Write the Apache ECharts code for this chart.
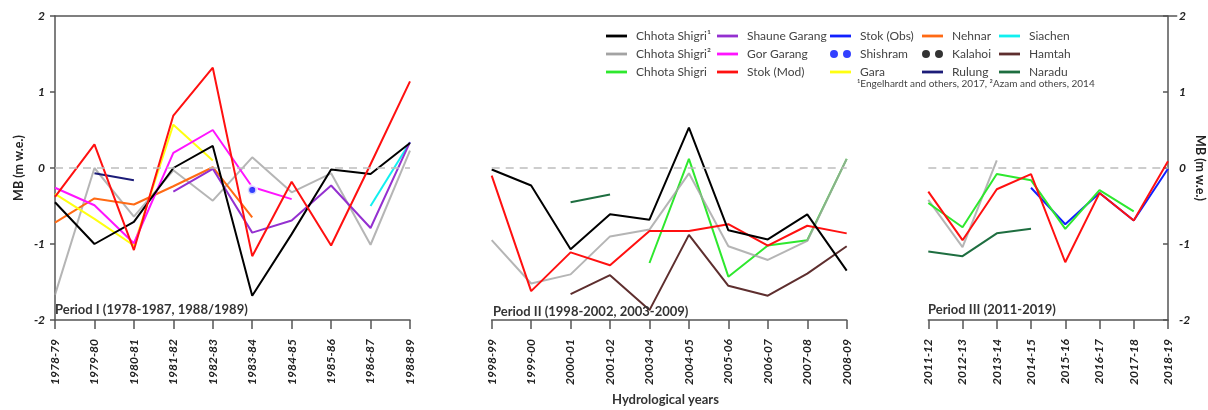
<!DOCTYPE html>
<html>
<head>
<meta charset="utf-8">
<script src="https://cdn.jsdelivr.net/npm/echarts@6/dist/echarts.min.js"></script>
<style>
  html, body { margin: 0; padding: 0; background: #fff; }
  #chart { width: 1208px; height: 410px; }
</style>
</head>
<body>
<div id="chart"></div>
<script>
// Hydrological years for the three observation periods
const yearsI   = ['1978-79','1979-80','1980-81','1981-82','1982-83','1983-84','1984-85','1985-86','1986-87','1988-89'];
const yearsII  = ['1998-99','1999-00','2000-01','2001-02','2003-04','2004-05','2005-06','2006-07','2007-08','2008-09'];
const yearsIII = ['2011-12','2012-13','2013-14','2014-15','2015-16','2016-17','2017-18','2018-19'];

const yTicks = [-2, -1, 0, 1, 2];

// Annual mass balance (m w.e.), Period I
const chhotaShigri1_I = [-0.45, -1.00, -0.71, 0.00, 0.29, -1.68, -0.87, -0.02, -0.08, 0.33];
const chhotaShigri2_I = [-1.67, 0.00, -0.64, -0.03, -0.43, 0.14, -0.32, -0.07, -1.01, 0.23];
const stokMod_I       = [-0.38, 0.31, -1.08, 0.69, 1.32, -1.16, -0.18, -1.02, 0.05, 1.14];
const gorGarang_I     = [-0.26, -0.49, -0.99, 0.20, 0.50, -0.25, -0.41, null, null, null];
const shauneGarang_I  = [null, null, null, -0.31, -0.01, -0.85, -0.69, -0.23, -0.79, 0.34];
const gara_I          = [-0.34, -0.67, -1.02, 0.57, 0.10, null, null, null, null, null];
const nehnar_I        = [-0.72, -0.40, -0.48, -0.24, 0.01, -0.65, null, null, null, null];
const rulung_I        = [null, -0.07, -0.16, null, null, null, null, null, null, null];
const siachen_I       = [null, null, null, null, null, null, null, null, -0.50, 0.34];
const shishram_I      = [null, null, null, null, null, -0.29, null, null, null, null];
const kalahoi_I       = [null, null, null, null, null, null, null, null, null, null];

// Period II
const chhotaShigri1_II = [-0.02, -0.23, -1.07, -0.61, -0.68, 0.53, -0.82, -0.94, -0.61, -1.35];
const chhotaShigri2_II = [-0.95, -1.52, -1.40, -0.90, -0.81, -0.07, -1.03, -1.21, -0.96, 0.12];
const chhotaShigri_II  = [null, null, null, null, -1.25, 0.12, -1.43, -1.02, -0.95, 0.12];
const stokMod_II       = [-0.10, -1.62, -1.11, -1.28, -0.83, -0.83, -0.74, -1.02, -0.76, -0.86];
const hamtah_II        = [null, null, -1.66, -1.41, -1.87, -0.88, -1.55, -1.68, -1.39, -1.03];
const naradu_II        = [null, null, -0.45, -0.35, null, null, null, null, null, null];

// Period III
const chhotaShigri2_III = [-0.42, -1.04, 0.10, null, null, null, null, null];
const chhotaShigri_III  = [-0.46, -0.78, -0.08, -0.16, -0.80, -0.29, -0.57, null];
const stokMod_III       = [-0.31, -0.95, -0.28, -0.08, -1.24, -0.33, -0.69, 0.09];
const stokObs_III       = [null, null, null, -0.26, -0.74, -0.33, -0.69, -0.01];
const naradu_III        = [-1.10, -1.16, -0.86, -0.80, null, null, null, null];

const COL = {
  'Chhota Shigri¹': '#000000',
  'Chhota Shigri²': '#a3a3a3',
  'Chhota Shigri': '#2ee82e',
  'Shaune Garang': '#9430d0',
  'Gor Garang': '#ff14ff',
  'Stok (Mod)': '#ff1010',
  'Stok (Obs)': '#1020ff',
  'Shishram': '#0010ff',
  'Gara': '#ffff10',
  'Nehnar': '#ff6a14',
  'Kalahoi': '#000000',
  'Rulung': '#1c1c78',
  'Siachen': '#10f0f0',
  'Hamtah': '#5e2e2e',
  'Naradu': '#1e6e40'
};

const FONT = 'Lato, "Open Sans", sans-serif';
const GRID_TOP = 16, GRID_H = 304;

function line(name, grid, data, extra) {
  return Object.assign({
    type: 'line', name, xAxisIndex: grid, yAxisIndex: grid, data,
    symbol: 'none', connectNulls: false, animation: false,
    lineStyle: { color: COL[name], width: 2 },
    itemStyle: { color: COL[name] }
  }, extra || {});
}
function dots(name, grid, data) {
  return {
    type: 'scatter', name, xAxisIndex: grid, yAxisIndex: grid, data,
    symbol: 'circle', symbolSize: 9, z: 5, animation: false,
    itemStyle: { color: COL[name], borderColor: '#fff', borderWidth: 3 }
  };
}
function zeroLine(grid) {
  return {
    type: 'line', xAxisIndex: grid, yAxisIndex: grid, data: [], silent: true, animation: false,
    markLine: {
      silent: true, symbol: 'none', animation: false, label: { show: false },
      lineStyle: { type: [8, 6], color: '#bdbdbd', width: 1.5 },
      data: [{ yAxis: 0 }]
    }
  };
}

const grayExtra = { z: 3, lineStyle: { color: COL['Chhota Shigri²'], width: 2, opacity: 0.8 } };

const series = [
  zeroLine(0), zeroLine(1), zeroLine(2),
  // Period I
  line('Chhota Shigri²', 0, chhotaShigri2_I, grayExtra),
  line('Nehnar', 0, nehnar_I),
  line('Gara', 0, gara_I),
  line('Rulung', 0, rulung_I),
  line('Siachen', 0, siachen_I),
  line('Shaune Garang', 0, shauneGarang_I),
  line('Gor Garang', 0, gorGarang_I),
  line('Chhota Shigri¹', 0, chhotaShigri1_I),
  line('Stok (Mod)', 0, stokMod_I),
  dots('Shishram', 0, shishram_I),
  dots('Kalahoi', 0, kalahoi_I),
  // Period II
  line('Chhota Shigri', 1, chhotaShigri_II),
  line('Chhota Shigri²', 1, chhotaShigri2_II, grayExtra),
  line('Hamtah', 1, hamtah_II),
  line('Naradu', 1, naradu_II),
  line('Stok (Mod)', 1, stokMod_II),
  line('Chhota Shigri¹', 1, chhotaShigri1_II),
  // Period III
  line('Chhota Shigri²', 2, chhotaShigri2_III, grayExtra),
  line('Naradu', 2, naradu_III),
  line('Stok (Obs)', 2, stokObs_III),
  line('Chhota Shigri', 2, chhotaShigri_III),
  line('Stok (Mod)', 2, stokMod_III)
];

const axisColor = '#555';
const labelStyle = { fontFamily: FONT, fontWeight: 'bold', fontStyle: 'italic', fontSize: 12, color: '#222' };

function xAxis(grid, cats) {
  return {
    gridIndex: grid, type: 'category', data: cats, boundaryGap: false,
    axisLine: { onZero: false, lineStyle: { color: axisColor, width: 1.5 } },
    axisTick: { length: 9, lineStyle: { color: axisColor, width: 1.5 } },
    axisLabel: Object.assign({ rotate: 90, margin: 19, interval: 0 }, labelStyle),
    splitLine: { show: false }
  };
}
function yAxis(grid, opts) {
  return Object.assign({
    gridIndex: grid, type: 'value', min: yTicks[0], max: yTicks[yTicks.length - 1], interval: 1,
    splitLine: { show: false }
  }, opts);
}

const legendCols = [
  { left: 606, data: ['Chhota Shigri¹', 'Chhota Shigri²', 'Chhota Shigri'] },
  { left: 717, data: ['Shaune Garang', 'Gor Garang', 'Stok (Mod)'] },
  { left: 830, data: ['Stok (Obs)', 'Shishram', 'Gara'] },
  { left: 922, data: ['Nehnar', 'Kalahoi', 'Rulung'] },
  { left: 999, data: ['Siachen', 'Hamtah', 'Naradu'] }
];
// legend glyphs: a short bar for lines, a pair of dots for point series
const twoDots = 'path://M0,4a4,4 0 1,0 8,0a4,4 0 1,0 -8,0z M13,4a4,4 0 1,0 8,0a4,4 0 1,0 -8,0z';
const barIcon = 'path://M0,0h21v2.8h-21z';

const legends = legendCols.map(c => ({
  orient: 'vertical', left: c.left, top: 29, padding: 0,
  itemWidth: 21, itemHeight: 8, itemGap: 4, symbolKeepAspect: true,
  selectedMode: false,
  textStyle: { fontFamily: FONT, fontSize: 12, lineHeight: 14, color: '#444', padding: [0, 0, 0, 4] },
  data: c.data.map(n => (n === 'Shishram' || n === 'Kalahoi')
    ? { name: n, icon: twoDots, itemStyle: { color: COL[n], borderWidth: 0 } }
    : { name: n, icon: barIcon, itemStyle: { color: COL[n], borderWidth: 0 } })
}));

const option = {
  backgroundColor: '#fff',
  animation: false,
  grid: [
    { left: 55, top: GRID_TOP, width: 355, height: GRID_H },
    { left: 491.7, top: GRID_TOP, width: 355, height: GRID_H },
    { left: 928.3, top: GRID_TOP, width: 248.4, height: GRID_H },
    { left: 55, top: GRID_TOP, width: 1121.7, height: GRID_H }
  ],
  xAxis: [
    xAxis(0, yearsI), xAxis(1, yearsII), xAxis(2, yearsIII),
    { gridIndex: 3, type: 'value', position: 'top', min: 0, max: 1,
      axisLine: { onZero: false, lineStyle: { color: axisColor, width: 1.5 } },
      axisTick: { show: false }, axisLabel: { show: false }, splitLine: { show: false } }
  ],
  yAxis: [
    yAxis(0, {
      position: 'left',
      axisLine: { show: true, onZero: false, lineStyle: { color: axisColor, width: 1.5 } },
      axisTick: { show: true, length: 5, lineStyle: { color: axisColor, width: 1.5 } },
      axisLabel: Object.assign({ margin: 10 }, labelStyle),
      name: 'MB (m w.e.)', nameLocation: 'middle', nameGap: 30, nameRotate: 90,
      nameTextStyle: { fontFamily: FONT, fontWeight: 'bold', fontSize: 12.5, color: '#222' }
    }),
    yAxis(1, { show: false }),
    yAxis(2, {
      position: 'right',
      axisLine: { show: true, onZero: false, lineStyle: { color: axisColor, width: 1.5 } },
      axisTick: { show: true, inside: true, length: 5, lineStyle: { color: axisColor, width: 1.5 } },
      axisLabel: Object.assign({ margin: 11 }, labelStyle),
      name: 'MB (m w.e.)', nameLocation: 'middle', nameGap: 17, nameRotate: -90,
      nameTextStyle: { fontFamily: FONT, fontWeight: 'bold', fontSize: 12.5, color: '#222' }
    }),
    { gridIndex: 3, type: 'value', min: 0, max: 1, show: false }
  ],
  legend: legends,
  title: [
    { text: 'Period I (1978-1987, 1988/1989)', left: 55, top: 303, padding: 0,
      textStyle: { fontFamily: FONT, fontWeight: 'bold', fontSize: 13, color: '#333' } },
    { text: 'Period II (1998-2002, 2003-2009)', left: 493, top: 305, padding: 0,
      textStyle: { fontFamily: FONT, fontWeight: 'bold', fontSize: 13, color: '#333' } },
    { text: 'Period III (2011-2019)', left: 928, top: 303, padding: 0,
      textStyle: { fontFamily: FONT, fontWeight: 'bold', fontSize: 13, color: '#333' } },
    { text: 'Hydrological years', left: 612, top: 393, padding: 0,
      textStyle: { fontFamily: FONT, fontWeight: 'bold', fontSize: 13, color: '#333' } },
    { text: '¹Engelhardt and others, 2017, ²Azam and others, 2014', left: 857, top: 79, padding: 0,
      textStyle: { fontFamily: FONT, fontWeight: 'normal', fontSize: 10, color: '#444' } }
  ],
  series
};

const chart = echarts.init(document.getElementById('chart'), null, { renderer: 'canvas' });
chart.setOption(option);
</script>
</body>
</html>
